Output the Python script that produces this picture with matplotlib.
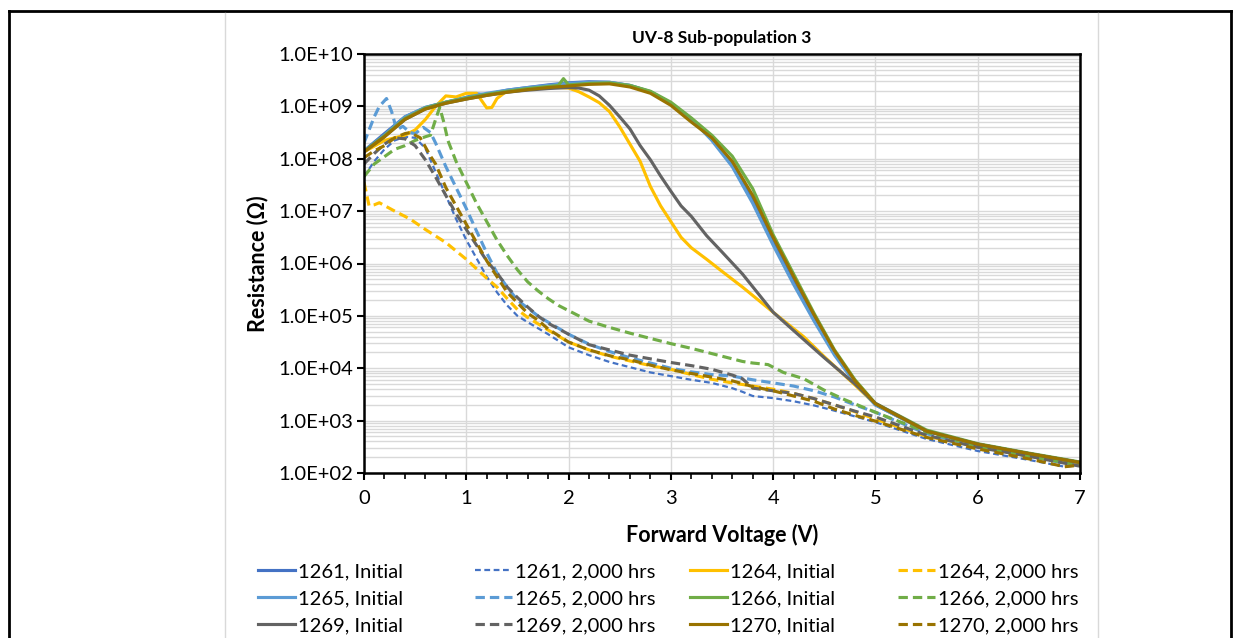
import numpy as np
import matplotlib
matplotlib.use('Agg')
import matplotlib.pyplot as plt
from matplotlib.ticker import MultipleLocator, LogLocator, FuncFormatter, NullFormatter
from matplotlib.lines import Line2D

plt.rcParams['font.family'] = ['Lato', 'DejaVu Sans']

# Forward voltage (V) and log10 of resistance (ohm).
# --- initial curves ---
v_1261_init = [0, 0.2, 0.4, 0.6, 0.8, 1.0, 1.1, 1.2, 1.3, 1.4, 1.6, 1.8, 2.0, 2.2, 2.4, 2.6, 2.8, 3.0, 3.2,
               3.4, 3.6, 3.8, 4.0, 4.2, 4.4, 4.6, 4.8, 5.0, 5.5, 6.0, 6.5, 7.0]
lr_1261_init = [8.15, 8.48, 8.80, 8.98, 9.08, 9.17, 9.24, 9.22, 9.27, 9.31, 9.36, 9.41, 9.45, 9.47, 9.46, 9.40,
                9.28, 9.06, 8.76, 8.37, 7.88, 7.20, 6.40, 5.65, 4.95, 4.28, 3.74, 3.30, 2.80, 2.55, 2.37, 2.20]

v_1264_init = [0, 0.2, 0.4, 0.5, 0.6, 0.7, 0.8, 0.9, 1.0, 1.1, 1.2, 1.25, 1.3, 1.4, 1.6, 1.8, 2.0, 2.1, 2.2,
               2.3, 2.4, 2.5, 2.6, 2.7, 2.8, 2.9, 3.0, 3.1, 3.2, 3.35, 3.5, 3.7, 4.0, 4.3, 4.5, 4.8, 5.0, 5.5,
               6.0, 6.5, 7.0]
lr_1264_init = [8.13, 8.35, 8.45, 8.55, 8.75, 9.00, 9.20, 9.18, 9.25, 9.25, 8.97, 8.98, 9.15, 9.30, 9.34, 9.37,
                9.35, 9.28, 9.18, 9.07, 8.90, 8.61, 8.28, 7.95, 7.47, 7.10, 6.80, 6.50, 6.30, 6.08, 5.85, 5.55,
                5.07, 4.60, 4.22, 3.68, 3.31, 2.80, 2.55, 2.37, 2.20]

v_1265_init = [0, 0.2, 0.4, 0.6, 0.8, 1.0, 1.2, 1.4, 1.6, 1.8, 2.0, 2.2, 2.4, 2.6, 2.8, 3.0, 3.2, 3.4, 3.6,
               3.8, 4.0, 4.2, 4.4, 4.6, 4.8, 5.0, 5.5, 6.0, 6.5, 7.0]
lr_1265_init = [8.15, 8.45, 8.80, 8.98, 9.08, 9.17, 9.25, 9.31, 9.36, 9.40, 9.44, 9.46, 9.46, 9.40, 9.28, 9.06,
                8.76, 8.35, 7.85, 7.15, 6.35, 5.60, 4.90, 4.25, 3.72, 3.30, 2.80, 2.55, 2.37, 2.20]

v_1266_init = [0, 0.2, 0.4, 0.6, 0.8, 1.0, 1.2, 1.4, 1.6, 1.8, 1.9, 1.95, 2.0, 2.2, 2.4, 2.6, 2.8, 3.0, 3.2,
               3.4, 3.6, 3.8, 4.0, 4.2, 4.4, 4.6, 4.8, 5.0, 5.5, 6.0, 6.5, 7.0]
lr_1266_init = [8.14, 8.44, 8.77, 8.97, 9.08, 9.16, 9.23, 9.29, 9.34, 9.38, 9.40, 9.53, 9.41, 9.44, 9.45, 9.40,
                9.29, 9.08, 8.78, 8.45, 8.05, 7.43, 6.55, 5.80, 5.05, 4.35, 3.78, 3.33, 2.82, 2.56, 2.38, 2.21]

v_1269_init = [0, 0.2, 0.4, 0.6, 0.8, 1.0, 1.2, 1.4, 1.6, 1.8, 2.0, 2.1, 2.2, 2.3, 2.4, 2.5, 2.6, 2.7, 2.8,
               2.9, 3.0, 3.1, 3.2, 3.35, 3.5, 3.7, 4.0, 4.2, 4.5, 4.8, 5.0, 5.5, 6.0, 6.5, 7.0]
lr_1269_init = [8.13, 8.42, 8.75, 8.95, 9.06, 9.14, 9.21, 9.27, 9.31, 9.34, 9.36, 9.35, 9.31, 9.20, 9.02, 8.80,
                8.57, 8.25, 7.98, 7.67, 7.38, 7.10, 6.90, 6.53, 6.22, 5.80, 5.07, 4.72, 4.20, 3.70, 3.33, 2.80,
                2.55, 2.37, 2.20]

v_1270_init = [0, 0.2, 0.4, 0.6, 0.8, 1.0, 1.2, 1.4, 1.6, 1.8, 2.0, 2.2, 2.4, 2.6, 2.8, 3.0, 3.2, 3.4, 3.6,
               3.8, 4.0, 4.2, 4.4, 4.6, 4.8, 5.0, 5.5, 6.0, 6.5, 7.0]
lr_1270_init = [8.13, 8.42, 8.75, 8.95, 9.06, 9.14, 9.21, 9.27, 9.32, 9.36, 9.39, 9.42, 9.43, 9.37, 9.25, 9.02,
                8.70, 8.40, 7.95, 7.30, 6.50, 5.75, 5.02, 4.33, 3.76, 3.32, 2.80, 2.55, 2.37, 2.20]

# --- after 2,000 hrs ---
v_1261_2k = [0, 0.1, 0.2, 0.3, 0.4, 0.5, 0.6, 0.7, 0.8, 0.9, 1.0, 1.1, 1.2, 1.3, 1.4, 1.5, 1.6, 1.8, 2.0,
             2.2, 2.4, 2.6, 2.8, 3.0, 3.2, 3.4, 3.6, 3.7, 3.8, 4.0, 4.2, 4.4, 4.6, 4.8, 5.0, 5.5, 6.0, 6.5,
             6.85, 7.0]
lr_1261_2k = [7.66, 7.95, 8.18, 8.35, 8.42, 8.40, 8.20, 7.75, 7.30, 6.85, 6.45, 6.10, 5.75, 5.45, 5.20, 5.00,
              4.88, 4.65, 4.40, 4.25, 4.12, 4.02, 3.92, 3.85, 3.78, 3.72, 3.62, 3.55, 3.47, 3.43, 3.37, 3.29,
              3.19, 3.08, 2.97, 2.65, 2.42, 2.25, 2.12, 2.15]

v_1264_2k = [0, 0.05, 0.1, 0.15, 0.3, 0.45, 0.6, 0.8, 1.0, 1.1, 1.2, 1.3, 1.4, 1.5, 1.6, 1.7, 1.8, 2.0, 2.2,
             2.4, 2.6, 2.8, 3.0, 3.2, 3.4, 3.6, 3.8, 4.0, 4.2, 4.4, 4.6, 4.8, 5.0, 5.5, 6.0, 6.5, 7.0]
lr_1264_2k = [7.55, 7.10, 7.12, 7.16, 7.00, 6.85, 6.65, 6.40, 6.08, 5.90, 5.72, 5.55, 5.33, 5.12, 4.97, 4.85,
              4.73, 4.50, 4.35, 4.23, 4.14, 4.05, 3.98, 3.88, 3.79, 3.72, 3.66, 3.60, 3.52, 3.42, 3.30, 3.17,
              3.03, 2.70, 2.51, 2.32, 2.17]

v_1265_2k = [0, 0.05, 0.1, 0.15, 0.22, 0.27, 0.32, 0.38, 0.45, 0.5, 0.58, 0.65, 0.7, 0.8, 0.9, 1.0, 1.1, 1.2,
             1.3, 1.4, 1.5, 1.6, 1.7, 1.8, 2.0, 2.2, 2.4, 2.6, 2.8, 3.0, 3.2, 3.4, 3.6, 3.8, 4.0, 4.2, 4.4,
             4.6, 4.8, 5.0, 5.5, 6.0, 6.5, 7.0]
lr_1265_2k = [8.30, 8.55, 8.80, 9.00, 9.15, 8.90, 8.55, 8.62, 8.50, 8.48, 8.60, 8.50, 8.30, 7.85, 7.45, 7.05,
              6.62, 6.20, 5.82, 5.55, 5.30, 5.15, 5.00, 4.88, 4.65, 4.46, 4.32, 4.20, 4.10, 4.00, 3.93, 3.88,
              3.85, 3.78, 3.72, 3.66, 3.57, 3.45, 3.30, 3.16, 2.75, 2.50, 2.32, 2.13]

v_1266_2k = [0, 0.1, 0.2, 0.3, 0.4, 0.5, 0.6, 0.65, 0.7, 0.74, 0.78, 0.82, 0.9, 1.0, 1.1, 1.2, 1.3, 1.4, 1.5,
             1.6, 1.7, 1.8, 1.9, 2.0, 2.2, 2.4, 2.6, 2.8, 3.0, 3.2, 3.4, 3.6, 3.7, 3.8, 3.95, 4.1, 4.3, 4.5,
             4.7, 5.0, 5.5, 6.0, 6.5, 7.0]
lr_1266_2k = [7.66, 7.90, 8.04, 8.18, 8.25, 8.35, 8.42, 8.45, 8.75, 8.98, 8.70, 8.35, 7.95, 7.55, 7.15, 6.80,
              6.45, 6.15, 5.88, 5.65, 5.48, 5.33, 5.20, 5.10, 4.90, 4.78, 4.67, 4.57, 4.47, 4.38, 4.28, 4.18,
              4.13, 4.10, 4.07, 3.92, 3.80, 3.58, 3.40, 3.16, 2.78, 2.51, 2.32, 2.15]

v_1269_2k = [0, 0.1, 0.2, 0.3, 0.4, 0.5, 0.6, 0.7, 0.8, 0.9, 1.0, 1.1, 1.2, 1.3, 1.4, 1.5, 1.6, 1.7, 1.8,
             2.0, 2.2, 2.4, 2.6, 2.8, 3.0, 3.2, 3.4, 3.6, 3.7, 3.8, 4.0, 4.2, 4.4, 4.6, 4.8, 5.0, 5.5, 6.0,
             6.5, 7.0]
lr_1269_2k = [7.90, 8.10, 8.28, 8.40, 8.38, 8.25, 7.98, 7.65, 7.30, 6.95, 6.65, 6.35, 6.05, 5.82, 5.55, 5.35,
              5.17, 5.00, 4.86, 4.65, 4.45, 4.35, 4.25, 4.18, 4.11, 4.05, 3.98, 3.87, 3.80, 3.62, 3.57, 3.52,
              3.42, 3.30, 3.18, 3.07, 2.72, 2.49, 2.32, 2.13]

v_1270_2k = [0, 0.1, 0.2, 0.3, 0.4, 0.45, 0.55, 0.65, 0.7, 0.8, 0.9, 1.0, 1.1, 1.2, 1.3, 1.4, 1.5, 1.6, 1.7,
             1.8, 2.0, 2.2, 2.4, 2.6, 2.8, 3.0, 3.2, 3.4, 3.6, 3.8, 4.0, 4.2, 4.4, 4.6, 4.8, 5.0, 5.5, 6.0,
             6.5, 6.85, 7.0]
lr_1270_2k = [8.02, 8.15, 8.25, 8.40, 8.48, 8.50, 8.40, 8.05, 7.90, 7.45, 7.10, 6.75, 6.40, 6.05, 5.75, 5.45,
              5.25, 5.05, 4.92, 4.75, 4.50, 4.35, 4.24, 4.16, 4.06, 3.97, 3.90, 3.83, 3.76, 3.65, 3.57, 3.47,
              3.37, 3.22, 3.10, 2.99, 2.68, 2.46, 2.27, 2.12, 2.15]

c_1261 = '#4472C4'
c_1264 = '#FFC000'
c_1265 = '#5B9BD5'
c_1266 = '#70AD47'
c_1269 = '#636363'
c_1270 = '#997300'

W, H = 1244, 638
fig = plt.figure(figsize=(W / 100, H / 100), dpi=100)
fig.patch.set_facecolor('white')

# page-ish frame around the chart
fig.add_artist(Line2D([9 / W, 9 / W], [0, 1 - 11 / H], color='black', lw=2))
fig.add_artist(Line2D([9 / W, 1231 / W], [1 - 11 / H, 1 - 11 / H], color='black', lw=2))
fig.add_artist(Line2D([1231 / W, 1231 / W], [0, 1 - 11 / H], color='black', lw=2))
fig.add_artist(Line2D([225 / W, 225 / W], [0, 1 - 13 / H], color='#d9d9d9', lw=1))
fig.add_artist(Line2D([1098 / W, 1098 / W], [0, 1 - 13 / H], color='#d9d9d9', lw=1))

left, right, top, bottom = 364, 1080, 54, 473
ax = fig.add_axes([left / W, 1 - bottom / H, (right - left) / W, (bottom - top) / H])

lw = 2.25
dash = (3.0, 1.6)
series = [
    ('1261, Initial', v_1261_init, lr_1261_init, c_1261, '-', None, lw),
    ('1261, 2,000 hrs', v_1261_2k, lr_1261_2k, c_1261, '--', (2.6, 1.6), 1.6),
    ('1264, Initial', v_1264_init, lr_1264_init, c_1264, '-', None, lw),
    ('1264, 2,000 hrs', v_1264_2k, lr_1264_2k, c_1264, '--', dash, lw),
    ('1265, Initial', v_1265_init, lr_1265_init, c_1265, '-', None, lw),
    ('1265, 2,000 hrs', v_1265_2k, lr_1265_2k, c_1265, '--', dash, lw),
    ('1266, Initial', v_1266_init, lr_1266_init, c_1266, '-', None, lw),
    ('1266, 2,000 hrs', v_1266_2k, lr_1266_2k, c_1266, '--', dash, lw),
    ('1269, Initial', v_1269_init, lr_1269_init, c_1269, '-', None, lw),
    ('1269, 2,000 hrs', v_1269_2k, lr_1269_2k, c_1269, '--', dash, lw),
    ('1270, Initial', v_1270_init, lr_1270_init, c_1270, '-', None, lw),
    ('1270, 2,000 hrs', v_1270_2k, lr_1270_2k, c_1270, '--', dash, lw),
]

handles = {}
for name, v, lr, col, ls, dsh, w in series:
    kw = dict(color=col, lw=w, label=name, solid_joinstyle='round', dash_capstyle='butt')
    if dsh is not None:
        kw['dashes'] = dsh
    line, = ax.plot(v, 10 ** np.array(lr), **kw)
    handles[name] = line

ax.set_yscale('log')
ax.set_xlim(0, 7)
ax.set_ylim(1e2, 1e10)
ax.xaxis.set_major_locator(MultipleLocator(1))
ax.xaxis.set_minor_locator(MultipleLocator(0.2))
ax.yaxis.set_major_locator(LogLocator(base=10, numticks=20))
ax.yaxis.set_minor_locator(LogLocator(base=10, subs=np.arange(2, 10), numticks=20))
ax.yaxis.set_major_formatter(FuncFormatter(lambda y, p: '%.1E' % y))
ax.yaxis.set_minor_formatter(NullFormatter())

ax.grid(True, which='major', axis='both', color='#d9d9d9', lw=1.0)
ax.grid(True, which='minor', axis='y', color='#d9d9d9', lw=1.0)
ax.set_axisbelow(True)

for s in ax.spines.values():
    s.set_linewidth(1.8)
    s.set_color('black')
ax.tick_params(axis='both', which='major', direction='out', length=5, width=1.5, labelsize=14.5, pad=3,
               colors='black')
ax.tick_params(axis='x', which='major', pad=7)
ax.tick_params(axis='x', which='minor', direction='out', length=4, width=1.2)
ax.tick_params(axis='y', which='minor', length=0)

ax.set_title('UV-8 Sub-population 3', fontsize=12.5, fontweight='bold', pad=8)
ax.set_xlabel('Forward Voltage (V)', fontsize=15.5, fontweight='bold')
ax.set_ylabel('Resistance (Ω)', fontsize=15.5, fontweight='bold')
ax.xaxis.set_label_coords(0.5, -(535 - bottom) / (bottom - top))
ax.xaxis.label.set_va('center')
ax.yaxis.set_label_coords(-(left - 258) / (right - left), 0.5)
ax.yaxis.label.set_va('center')

# legend: four columns placed like the original
cols = [
    ['1261, Initial', '1265, Initial', '1269, Initial'],
    ['1261, 2,000 hrs', '1265, 2,000 hrs', '1269, 2,000 hrs'],
    ['1264, Initial', '1266, Initial', '1270, Initial'],
    ['1264, 2,000 hrs', '1266, 2,000 hrs', '1270, 2,000 hrs'],
]
col_x = [258, 475, 690, 898]
for names, x in zip(cols, col_x):
    leg = fig.legend([handles[n] for n in names], names, loc='upper left',
                     bbox_to_anchor=(x / W, 1 - 563 / H), frameon=False, fontsize=14.5,
                     handlelength=1.85, handletextpad=0.15, borderpad=0, borderaxespad=0,
                     labelspacing=0.49)

fig.savefig('out.png', dpi=100, facecolor='white')
